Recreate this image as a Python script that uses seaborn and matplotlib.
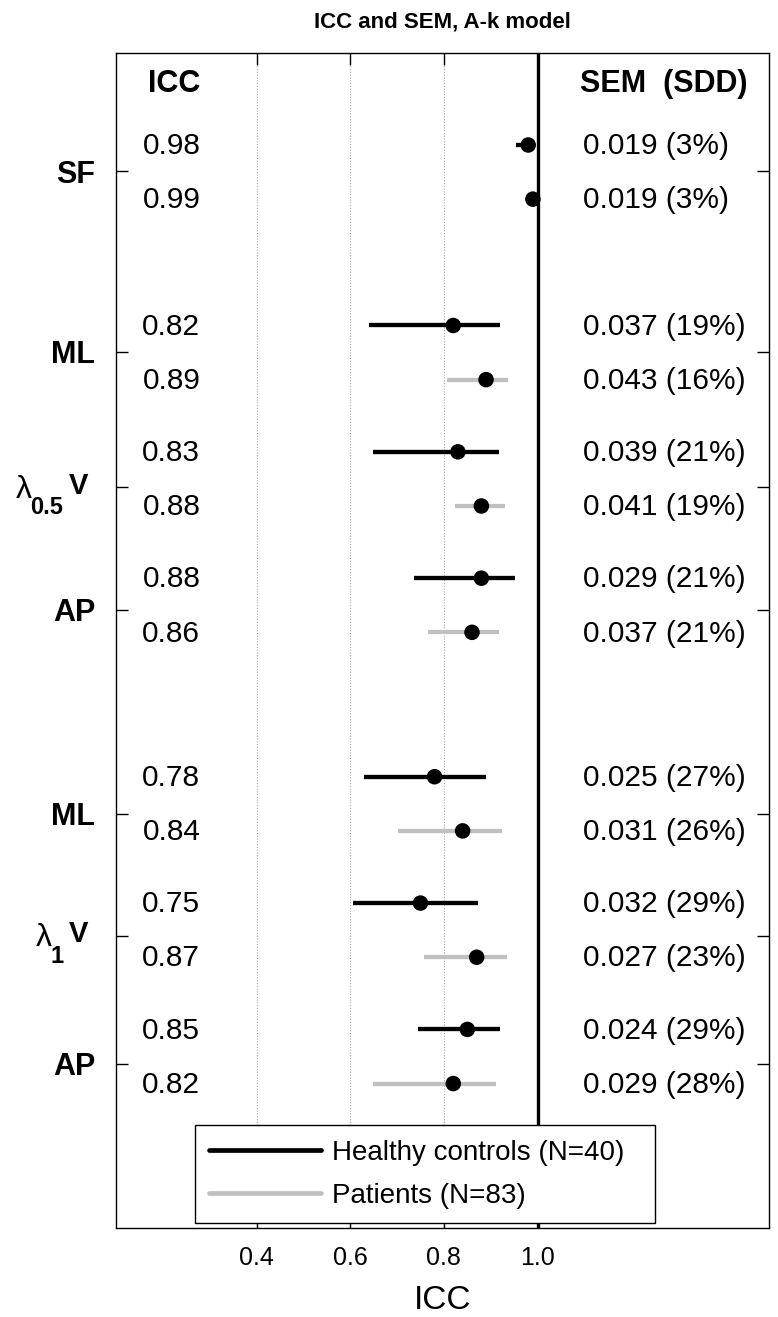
"""
Forest plot ICC / SEM, modele A-k (controles vs patients).
"""

import pandas as pd
import seaborn as sns
import matplotlib.pyplot as plt
from matplotlib.lines import Line2D

# valeurs
measure_labels = ["SF", "ML", "V", "AP", "ML", "V", "AP"]
lambda_sub = [None, None, "0.5", None, None, "1", None]
groups = ["Healthy controls (N=40)", "Patients (N=83)"]

icc_hc = [0.98, 0.82, 0.83, 0.88, 0.78, 0.75, 0.85]
icc_pt = [0.99, 0.89, 0.88, 0.86, 0.84, 0.87, 0.82]
lo_hc = [0.953, 0.640, 0.649, 0.736, 0.630, 0.607, 0.744]
hi_hc = [0.985, 0.919, 0.917, 0.951, 0.889, 0.872, 0.919]
lo_pt = [0.985, 0.806, 0.823, 0.766, 0.702, 0.757, 0.649]
hi_pt = [0.994, 0.936, 0.930, 0.917, 0.925, 0.934, 0.911]
sem_hc = ["0.019 (3%)", "0.037 (19%)", "0.039 (21%)", "0.029 (21%)",
          "0.025 (27%)", "0.032 (29%)", "0.024 (29%)"]
sem_pt = ["0.019 (3%)", "0.043 (16%)", "0.041 (19%)", "0.037 (21%)",
          "0.031 (26%)", "0.027 (23%)", "0.029 (28%)"]

xticks = [0.4, 0.6, 0.8, 1.0]

# mise en page verticale (unites arbitraires)
gap_before = [0, 10, 7, 7, 11, 7, 7]
tick_offset = [1.45, 1.45, 1.95, 1.75, 2.05, 1.8, 1.9]


def build_table():
    """table longue : une ligne par groupe et par mesure"""
    rows = []
    start = 0
    for i in range(len(measure_labels)):
        start += gap_before[i]
        rows.append(dict(group=groups[0], pos=start, icc=icc_hc[i],
                         lo=lo_hc[i], hi=hi_hc[i], sem=sem_hc[i]))
        rows.append(dict(group=groups[1], pos=start + 3, icc=icc_pt[i],
                         lo=lo_pt[i], hi=hi_pt[i], sem=sem_pt[i]))
    return pd.DataFrame(rows)


def lambda_label(ax, y, sub):
    """etiquette lambda_sub V construite a la main (indice bas et gros)"""
    v = ax.annotate("V", xy=(0, y), xycoords=ax.get_yaxis_transform(),
                    xytext=(-20, 3), textcoords="offset points", ha="right",
                    va="center_baseline", fontsize=21, fontweight="bold")
    s = ax.annotate(sub, xy=(0, 0.5), xycoords=v, xytext=(-4, -14),
                    textcoords="offset points", ha="right", va="center_baseline",
                    fontsize=17, fontweight="bold")
    ax.annotate("λ", xy=(0, 0.5), xycoords=s, xytext=(1, 15.5),
                textcoords="offset points", ha="right", va="center_baseline",
                fontsize=23)


def main():
    sns.set_theme(style="ticks")
    plt.rcParams["font.family"] = ["Liberation Sans", "DejaVu Sans"]
    for k in ["text.color", "axes.labelcolor", "xtick.color", "ytick.color",
              "axes.edgecolor"]:
        plt.rcParams[k] = "black"

    df = build_table()
    colors = {groups[0]: "black", groups[1]: "#c0c0c0"}

    fig = plt.figure(figsize=(7.78, 13.17), dpi=100)
    ax = fig.add_axes([0.1491, 0.0676, 0.8393, 0.8922])

    # grille et ligne de reference
    for x in xticks[:-1]:
        ax.axvline(x, color="#a8a8a8", ls=(0, (1, 1.5)), lw=0.8, zorder=0)
    ax.axvline(1.0, color="black", lw=2.4, zorder=1)

    # intervalles de confiance
    for g in groups:
        sub = df[df["group"] == g]
        ax.hlines(sub["pos"], sub["lo"], sub["hi"], color=colors[g], lw=3.1, zorder=2)

    sns.scatterplot(data=df, x="icc", y="pos", color="black", s=125,
                    edgecolor="none", legend=False, zorder=3, ax=ax)

    # colonnes de texte
    for _, r in df.iterrows():
        ax.text(0.28, r["pos"] - 0.1, f"{r['icc']:.2f}", ha="right", va="center_baseline",
                fontsize=21.5)
        ax.text(1.097, r["pos"] - 0.1, r["sem"], ha="left", va="center_baseline",
                fontsize=21.5)
    ax.text(0.28, -3.6, "ICC", ha="right", va="center_baseline", fontsize=22,
            fontweight="bold")
    ax.text(1.09, -3.6, "SEM  (SDD)", ha="left", va="center_baseline", fontsize=22,
            fontweight="bold")

    # axes
    starts = df[df["group"] == groups[0]]["pos"].tolist()
    ticks_y = [s + o for s, o in zip(starts, tick_offset)]
    ax.set_yticks(ticks_y)
    ax.set_yticklabels([m if sub is None else "" for m, sub in zip(measure_labels, lambda_sub)],
                       fontsize=22, fontweight="bold")
    for y, sub in zip(ticks_y, lambda_sub):
        if sub is not None:
            lambda_label(ax, y, sub)
    ax.set_xticks(xticks)
    ax.set_xticklabels([f"{x:.1f}" for x in xticks], fontsize=18)
    ax.set_xlim(0.1, 1.494)
    ax.set_ylim(60, -5.1)
    ax.tick_params(direction="in", length=8.5, width=1, top=True, right=True,
                   labeltop=False, labelright=False, color="black")
    ax.tick_params(axis="y", pad=15)
    ax.tick_params(axis="x", pad=13)
    ax.set_xlabel("ICC", fontsize=24, labelpad=11)
    ax.set_ylabel("")
    for s in ax.spines.values():
        s.set_visible(True)
        s.set_color("black")
        s.set_linewidth(1)

    handles = [Line2D([], [], color=colors[g], lw=3.4) for g in groups]
    leg = ax.legend(handles, groups, loc="lower left",
                    bbox_to_anchor=(0.121, 0.004, 0.7044, 0.085), mode="expand",
                    borderaxespad=0, fontsize=20, handlelength=4.0, handletextpad=0.42,
                    labelspacing=0.62, borderpad=0.52, fancybox=False, framealpha=1,
                    edgecolor="black")
    leg.get_frame().set_linewidth(1)

    fig.text(0.1491 + 0.8393 / 2, 0.983, "ICC and SEM, A-k model", ha="center",
             va="center", fontsize=16, fontweight="bold")

    fig.savefig("out.png", dpi=100)


if __name__ == "__main__":
    main()
